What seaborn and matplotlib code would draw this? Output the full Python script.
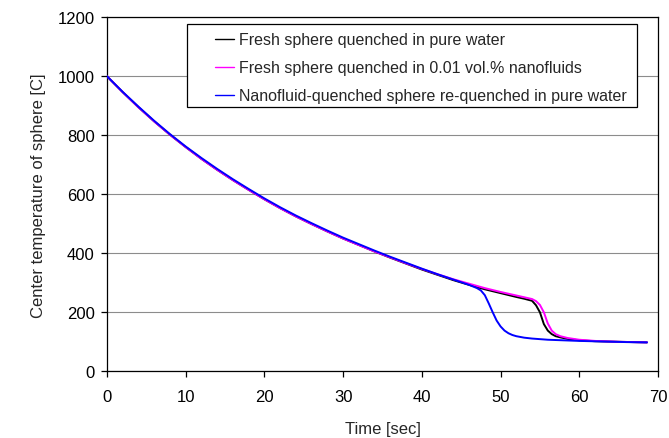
import matplotlib
matplotlib.use("Agg")
import matplotlib.pyplot as plt
from matplotlib.patches import Rectangle
import numpy as np
import pandas as pd
import seaborn as sns

# ---- data ----
black_t = [0, 2, 4, 6, 8, 10, 12, 14, 16, 18, 20, 22, 24, 26, 28, 30, 32, 34, 36, 38, 40,
           42, 44, 46, 48, 50, 52, 53, 54, 54.5, 55, 55.5, 56, 56.5, 57, 57.6, 58.5, 60, 62, 65, 68.6]
black_T = [1000, 946, 895, 847, 802, 760, 720, 683, 648, 615, 583, 553, 525, 499, 474, 450, 428, 406, 385, 365, 345,
           327, 309, 293, 278, 265, 252, 246, 239, 224, 200, 160, 138, 126, 119, 115, 110, 105, 102, 100, 98]

pink_t = [0, 2, 4, 6, 8, 10, 12, 14, 16, 18, 20, 22, 24, 26, 28, 30, 32, 34, 36, 38, 40,
          42, 44, 46, 48, 50, 52, 53, 54, 54.5, 55, 55.5, 56, 56.5, 57, 57.6, 58.5, 60, 62, 65, 68.6]
pink_T = [1000, 946, 895, 847, 802, 760, 720, 683, 648, 615, 583, 553, 525, 499, 474, 450, 428, 406, 386, 366, 347,
          329, 312, 297, 282, 269, 257, 251, 245, 238, 225, 200, 162, 138, 126, 119, 113, 107, 103, 100, 98]

blue_t = [0, 2, 4, 6, 8, 10, 12, 14, 16, 18, 20, 22, 24, 26, 28, 30, 32, 34, 36, 38, 40,
          42, 44, 45, 46, 47, 47.5, 48, 48.5, 49, 49.5, 50, 50.5, 51, 51.5, 52, 53, 54, 56, 58, 60, 63, 66, 68.6]
blue_T = [1000, 947, 897, 849, 804, 762, 723, 686, 651, 618, 586, 556, 528, 502, 477, 453, 431, 409, 388, 368, 348,
          329, 311, 302, 293, 282, 274, 258, 230, 200, 172, 152, 138, 129, 123, 119, 114, 111, 107, 105, 103, 101, 99, 98]

series_names = ["Fresh sphere quenched in pure water",
                "Fresh sphere quenched in 0.01 vol.% nanofluids",
                "Nanofluid-quenched sphere re-quenched in pure water"]
series_colors = ["#000000", "#FF00FF", "#0000FF"]

x_ticks = [0, 10, 20, 30, 40, 50, 60, 70]
y_ticks = [0, 200, 400, 600, 800, 1000, 1200]

df = pd.concat([
    pd.DataFrame({"t": black_t, "T": black_T, "series": series_names[0]}),
    pd.DataFrame({"t": pink_t, "T": pink_T, "series": series_names[1]}),
    pd.DataFrame({"t": blue_t, "T": blue_T, "series": series_names[2]}),
], ignore_index=True)

sns.set_style("ticks")
plt.rcParams["font.family"] = ["Liberation Sans", "DejaVu Sans"]

fig = plt.figure(figsize=(6.69, 4.39), dpi=100)
ax = fig.add_axes([107 / 669, 1 - 372.3 / 439, 551 / 669, 354 / 439])

sns.lineplot(data=df, x="t", y="T", hue="series", hue_order=series_names,
             palette=dict(zip(series_names, series_colors)), sort=False,
             linewidth=1.4, ax=ax, legend=True, zorder=5)

ax.set_xlim(0, 70)
ax.set_ylim(0, 1200)
ax.set_xticks(x_ticks)
ax.set_yticks(y_ticks)
ax.yaxis.grid(True, color="#8c8c8c", linewidth=0.8)
ax.set_axisbelow(True)
for s in ax.spines.values():
    s.set_visible(True)
    s.set_color("black")
    s.set_linewidth(0.9)
ax.tick_params(axis="both", direction="out", length=4, width=0.9, colors="black",
               labelsize=12, top=False, right=False)
ax.tick_params(axis="y", pad=5)
ax.tick_params(axis="x", pad=9)
ax.set_xlabel("Time [sec]", fontsize=12, labelpad=12)
ax.set_ylabel("Center temperature of sphere [C]", fontsize=12, labelpad=8)

# legend box
ax.add_patch(Rectangle((0.1457, 0.7466), 0.816, 0.2344, transform=ax.transAxes,
                       facecolor="white", edgecolor="black", linewidth=0.9, zorder=6))
leg = ax.legend(loc="upper left", bbox_to_anchor=(0.196, 0.958), frameon=False,
                fontsize=11.5, handlelength=1.2, handletextpad=0.3, labelspacing=0.82,
                borderpad=0, borderaxespad=0, title=None)
leg.set_zorder(7)
for h in leg.get_lines():
    h.set_linewidth(1.0)

fig.savefig("out.png", dpi=100)
